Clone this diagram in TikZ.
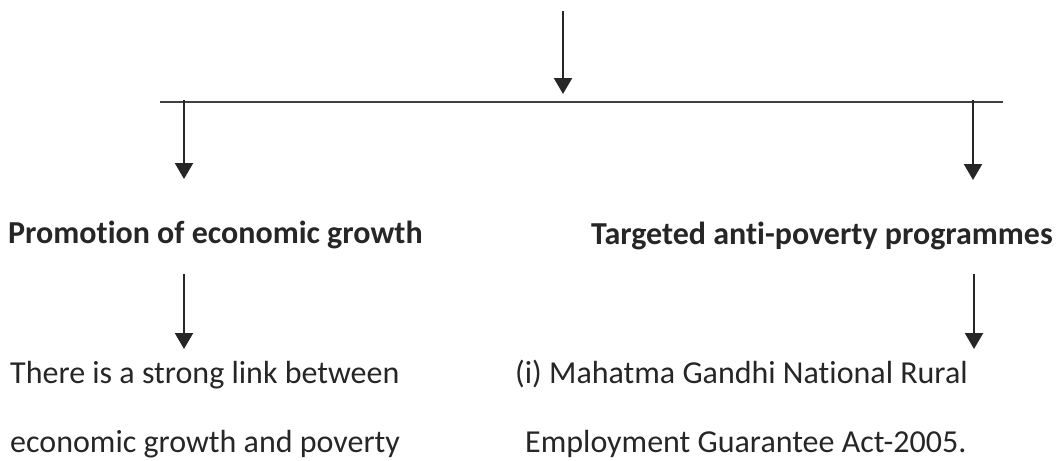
\documentclass[tikz,border=0pt]{standalone}
\usepackage{fontspec}
\setmainfont{Carlito}[Ligatures=NoCommon]
\usetikzlibrary{arrows.meta,positioning}
\tikzset{arr/.style={-{Triangle[length=16pt,width=18pt]},line width=2.2pt,draw=black!85},lbl/.style={font=\fontsize{32}{38}\selectfont,inner sep=0pt,text=black!85},hd/.style={lbl,font=\fontsize{32}{38}\selectfont\bfseries}}

\begin{document}
\begin{tikzpicture}[x=1pt,y=-1pt]
\useasboundingbox (0,0) rectangle (1064,460);
\coordinate (barL) at (160,102); \coordinate (barR) at (1003,102);
\draw[line width=1.7pt,black!75] (barL)--(barR);
\node[hd,anchor=base west] (grow) at (8,243) {Promotion of economic growth};
\node[hd,anchor=base east] (target) at (1053,244) {Targeted anti-poverty programmes};
\node[lbl,anchor=base west] (link1) at (10,383) {There is a strong link between};
\node[lbl,anchor=base west] (link2) at (10,452) {economic growth and poverty};
\node[lbl,anchor=base west] (mg1) at (515,383) {(i) Mahatma Gandhi National Rural};
\node[lbl,anchor=base west] (mg2) at (525,452) {Employment Guarantee Act-2005.};
\foreach \n/\x/\a/\b in {top/563/11/94,growin/184/100/179,targetin/973/100/180,growout/184/274/349,targetout/974/274/349}{\coordinate (\n-s) at (\x,\a); \coordinate (\n-e) at (\x,\b); \draw[arr] (\n-s)--(\n-e);}
\end{tikzpicture}
\end{document}
